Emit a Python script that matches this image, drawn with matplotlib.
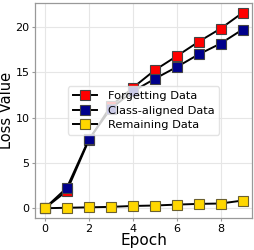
import numpy as np
import matplotlib
matplotlib.use('Agg')
import matplotlib.pyplot as plt

epochs = np.arange(10)
forgetting = [0.0, 1.9, 7.5, 11.3, 13.3, 15.25, 16.8, 18.4, 19.85, 21.6]
class_aligned = [0.0, 2.25, 7.6, 11.0, 12.9, 14.3, 15.6, 17.0, 18.2, 19.75]
remaining = [0.0, 0.05, 0.1, 0.15, 0.25, 0.3, 0.4, 0.48, 0.52, 0.85]

fig, ax = plt.subplots(figsize=(2.55, 2.5), dpi=100)
fig.subplots_adjust(left=0.137, right=0.99, top=0.988, bottom=0.128)

style = dict(color='black', lw=1.4, marker='s', markersize=6.5, markeredgewidth=0.8)
ax.plot(epochs, forgetting, markerfacecolor='#ff0000', markeredgecolor='#444444',
        label='Forgetting Data', **style)
ax.plot(epochs, class_aligned, markerfacecolor='#00008b', markeredgecolor='#444444',
        label='Class-aligned Data', **style)
ax.plot(epochs, remaining, markerfacecolor='#ffd700', markeredgecolor='#6b6030',
        label='Remaining Data', **style)

ax.set_xticks([0, 2, 4, 6, 8])
ax.set_yticks([0, 5, 10, 15, 20])
ax.grid(True, color='#e6e6e6', lw=0.8)
ax.set_axisbelow(True)
ax.tick_params(length=2.5, width=0.8, color='#999999', labelsize=8, pad=1.5)
for s in ax.spines.values():
    s.set_color('#999999')
    s.set_linewidth(0.9)

ax.set_xlabel('Epoch', fontsize=11)
ax.xaxis.set_label_coords(0.5, -0.068)
ax.set_ylabel('Loss Value', fontsize=10.5)
ax.yaxis.set_label_coords(-0.098, 0.5)
ax.legend(loc='center', fontsize=8.2, framealpha=0.8, edgecolor='#dddddd',
          handlelength=2.1, handletextpad=1.0, borderpad=0.4, labelspacing=0.4)

plt.savefig('out.png', dpi=100)
